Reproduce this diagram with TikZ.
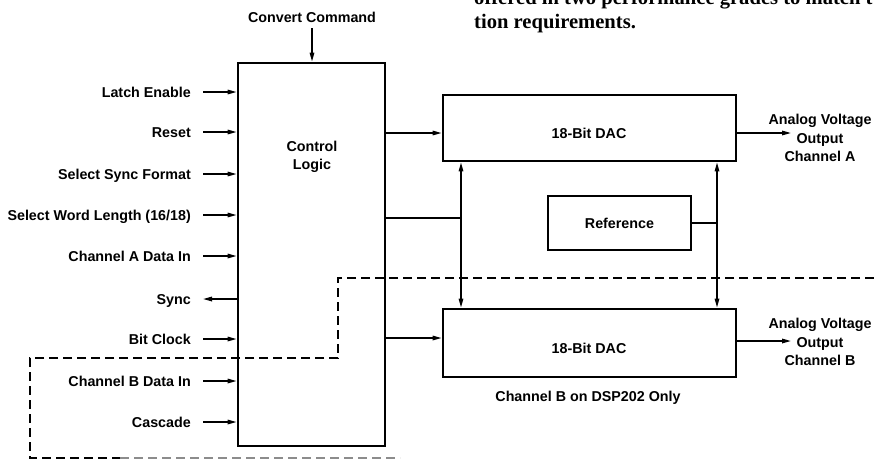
\documentclass[tikz,border=0pt]{standalone}
\usepackage{fontspec}
\setmainfont{Liberation Sans}
\newfontfamily\serifb{Liberation Serif}
\usetikzlibrary{arrows.meta}
\begin{document}
\begin{tikzpicture}[x=1pt,y=-1pt,
  lbl/.style={font=\fontsize{14.3}{18.5}\selectfont\bfseries, inner sep=0pt},
  arr/.style={line width=1.5pt, -{Triangle[length=9pt,width=4.5pt]}},
  dbl/.style={line width=1.5pt, {Triangle[length=9pt,width=4.5pt]}-{Triangle[length=9pt,width=4.5pt]}},
  conn/.style={line width=1.5pt},
  box/.style={draw, line width=2.8pt, inner sep=0pt},
  dline/.style={line width=1.4pt, dash pattern=on 9pt off 5pt},
  para/.style={font=\serifb\bfseries\fontsize{20.6}{23}\selectfont, inner sep=0pt, anchor=base west}
]
\useasboundingbox (0,0) rectangle (874,459);
\clip (0,0) rectangle (874,459);

% page text above the figure
\node[para] (t1) at (474,4) {offered in two performance grades to match t};
\node[para] (t2) at (474,28) {tion requirements.};

% main blocks
\node[box, minimum width=147pt, minimum height=383pt] (cl) at (311.5,254.5) {};
\node[lbl, align=center] (clt) at (312,157) {Control\\Logic};
\node[box, minimum width=293pt, minimum height=66pt] (dacA) at (589.5,128) {};
\node[lbl] (dacAt) at (589,133) {18-Bit DAC};
\node[box, minimum width=293pt, minimum height=68pt] (dacB) at (589.5,343) {};
\node[lbl] (dacBt) at (589,348) {18-Bit DAC};
\node[box, lbl, line width=2.4pt, minimum width=143pt, minimum height=54pt] (ref) at (619.5,223) {Reference};
\node[lbl] (note) at (588,398) {Channel B on DSP202 Only};

% convert command
\node[lbl] (cc) at (312,17) {Convert Command};
\coordinate (ccs) at (312,28);
\draw[arr] (ccs) -- (ccs |- cl.north);

% left inputs
\node[lbl, anchor=base east] (le) at (191,97) {Latch Enable};
\node[lbl, anchor=base east] (rs) at (191,137) {Reset};
\node[lbl, anchor=base east] (ssf) at (191,179) {Select Sync Format};
\node[lbl, anchor=base east] (swl) at (191,220) {Select Word Length (16/18)};
\node[lbl, anchor=base east] (cad) at (191,261) {Channel A Data In};
\node[lbl, anchor=base east] (sy) at (191,304) {Sync};
\node[lbl, anchor=base east] (bc) at (191,344) {Bit Clock};
\node[lbl, anchor=base east] (cbd) at (191,386) {Channel B Data In};
\node[lbl, anchor=base east] (cas) at (191,427) {Cascade};
\foreach \n in {le,rs,ssf,swl,cad,bc,cbd,cas}{
  \draw[arr] ([xshift=12pt,yshift=5pt]\n.base east) -- ([yshift=5pt]\n.base east -| cl.west);
}
\draw[arr] ([yshift=5pt]sy.base east -| cl.west) -- ([xshift=12pt,yshift=5pt]sy.base east);

% control logic to DACs
\coordinate (ya) at (0,133);
\coordinate (yb) at (0,338);
\coordinate (yc) at (0,218);
\draw[arr] (cl.east |- ya) -- (dacA.west |- ya);
\draw[arr] (cl.east |- yb) -- (dacB.west |- yb);

% reference / bus lines
\coordinate (xl) at (461,0);
\coordinate (xr) at (717,0);
\draw[dbl] (xl |- dacA.south) -- (xl |- dacB.north);
\draw[dbl] (xr |- dacA.south) -- (xr |- dacB.north);
\draw[conn] (cl.east |- yc) -- (xl |- yc);
\draw[conn] (ref.east) -- (xr |- ref.east);

% outputs
\node[lbl, align=center] (outA) at (820,138) {Analog Voltage\\Output\\Channel A};
\node[lbl, align=center] (outB) at (820,342) {Analog Voltage\\Output\\Channel B};
\coordinate (oA) at (791,133);
\coordinate (oB) at (791,341);
\draw[arr] (dacA.east |- oA) -- (oA);
\draw[arr] (dacB.east |- oB) -- (oB);

% dashed boundary for channel B
\draw[dline] (874,278) -- (338,278) -- (338,358) -- (30,358) -- (30,458) -- (120,458);
\draw[dline, black!45] (120,458) -- (400,458);
\end{tikzpicture}
\end{document}
